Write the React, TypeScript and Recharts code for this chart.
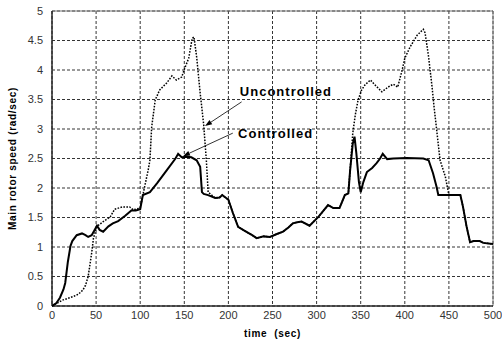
import React from "react";
import {
  CartesianGrid,
  Line,
  LineChart,
  ReferenceArea,
  ReferenceDot,
  ReferenceLine,
  XAxis,
  YAxis,
} from "recharts";

// time (sec) / rotor speed (rad/sec) samples for each run
const controlledTime = [
  0, 5, 9, 13, 15, 18, 21, 23, 28, 34, 38, 41, 45, 48, 51, 54, 58, 64, 69, 75,
  83, 90, 95, 100, 103, 111, 119, 130, 140, 143, 147, 153, 158, 164, 168, 170,
  172, 177, 185, 190, 193, 200, 205, 211, 219, 227, 232, 240, 247, 255, 262,
  268, 273, 278, 283, 292, 302, 313, 319, 326, 332, 336, 338, 341, 343, 345,
  348, 350, 353, 357, 363, 368, 372, 375, 380, 387, 402, 421, 427, 432, 436,
  438, 463, 466, 470, 474, 478, 485, 489, 500,
];
const controlledSpeed = [
  0, 0.05, 0.14, 0.28, 0.39, 0.75, 1.02, 1.1, 1.2, 1.23, 1.2, 1.17, 1.2, 1.28,
  1.36, 1.29, 1.26, 1.35, 1.4, 1.44, 1.53, 1.62, 1.62, 1.64, 1.88, 1.93, 2.08,
  2.3, 2.5, 2.58, 2.52, 2.53, 2.52, 2.47, 2.36, 1.93, 1.9, 1.88, 1.83, 1.84,
  1.88, 1.8, 1.58, 1.34, 1.27, 1.2, 1.15, 1.18, 1.17, 1.22, 1.26, 1.33, 1.4,
  1.42, 1.43, 1.36, 1.51, 1.71, 1.66, 1.66, 1.88, 1.91, 2.3, 2.75, 2.87, 2.6,
  2.1, 1.93, 2.1, 2.27, 2.34, 2.42, 2.5, 2.58, 2.49, 2.5, 2.51, 2.5, 2.47,
  2.25, 2.02, 1.88, 1.88, 1.68, 1.35, 1.08, 1.1, 1.1, 1.07, 1.05,
];

const uncontrolledTime = [
  0, 6, 12, 24, 30, 35, 38, 41, 43, 45, 47, 51, 58, 66, 71, 80, 88, 92, 100,
  105, 109, 111, 113, 117, 122, 130, 136, 141, 147, 151, 155, 159, 161, 164,
  168, 172, 175, 177, 185, 190, 193, 200, 205, 211, 219, 227, 232, 240, 247,
  255, 262, 268, 273, 278, 283, 292, 302, 313, 319, 326, 332, 336, 338, 341,
  344, 347, 351, 355, 361, 366, 374, 381, 387, 392, 397, 400, 406, 414, 421,
  423, 427, 431, 433, 436, 440, 446, 450, 463, 466, 470, 474, 478, 485, 489,
  500,
];
const uncontrolledSpeed = [
  0, 0.05, 0.1, 0.16, 0.2, 0.27, 0.35, 0.5, 0.7, 0.9, 1.15, 1.35, 1.43, 1.51,
  1.64, 1.68, 1.68, 1.63, 1.66, 2.02, 2.3, 2.47, 3.03, 3.49, 3.66, 3.78, 3.9,
  3.83, 3.88, 4.05, 4.2, 4.54, 4.56, 4.22, 3.61, 3.07, 2.47, 1.93, 1.83, 1.84,
  1.88, 1.8, 1.58, 1.34, 1.27, 1.2, 1.15, 1.18, 1.17, 1.22, 1.26, 1.33, 1.4,
  1.42, 1.43, 1.36, 1.51, 1.71, 1.66, 1.66, 1.88, 1.91, 2.3, 2.93, 3.25, 3.49,
  3.66, 3.75, 3.83, 3.75, 3.63, 3.71, 3.76, 3.71, 4.0, 4.2, 4.39, 4.59, 4.69,
  4.63, 4.22, 3.7, 3.4, 3.0, 2.47, 2.19, 1.88, 1.88, 1.68, 1.35, 1.08, 1.1,
  1.1, 1.07, 1.05,
];

const xTicks = [0, 50, 100, 150, 200, 250, 300, 350, 400, 450, 500];
const yTicks = [0, 0.5, 1, 1.5, 2, 2.5, 3, 3.5, 4, 4.5, 5];

// annotation text and arrows, in data units
const annotations = [
  { text: "Uncontrolled", x: 213, y: 3.56, from: [215, 3.46], to: [173.5, 3.05] },
  { text: "Controlled", x: 211, y: 2.85, from: [205, 2.93], to: [148.5, 2.54] },
];

const toPoints = (ts: number[], vs: number[]) =>
  ts.map((t, i) => ({ t, v: vs[i] }));

const controlled = toPoints(controlledTime, controlledSpeed);
const uncontrolled = toPoints(uncontrolledTime, uncontrolledSpeed);

const font = "'Liberation Sans', Arial, Helvetica, sans-serif";
const axisTitle = {
  fontSize: 10,
  fontWeight: "bold",
  fill: "#000",
  fontFamily: font,
  letterSpacing: 0.7,
};

const Arrow = (props: any) => {
  const { x1, y1, x2, y2 } = props;
  const a = Math.atan2(y2 - y1, x2 - x1);
  const len = 7;
  const w = 2.5;
  const bx = x2 - len * Math.cos(a);
  const by = y2 - len * Math.sin(a);
  const px = -Math.sin(a) * w;
  const py = Math.cos(a) * w;
  return (
    <g>
      <line x1={x1} y1={y1} x2={bx} y2={by} stroke="#000" strokeWidth={0.8} />
      <polygon
        points={`${x2},${y2} ${bx + px},${by + py} ${bx - px},${by - py}`}
        fill="#000"
      />
    </g>
  );
};

const App = () => {
  return (
    <div style={{ position: "absolute", left: 0, top: 0, background: "#fff" }}>
      <LineChart
        width={502}
        height={339}
        margin={{ top: 11, right: 9, bottom: 0, left: 0 }}
        style={{ fontFamily: font }}
      >
        <CartesianGrid
          stroke="#000"
          strokeWidth={0.8}
          strokeDasharray="3 2"
          verticalValues={xTicks}
          horizontalValues={yTicks}
        />
        <XAxis
          dataKey="t"
          type="number"
          domain={[0, 500]}
          ticks={xTicks}
          allowDataOverflow
          height={33}
          tickSize={0}
          tickMargin={5}
          axisLine={{ stroke: "#000" }}
          tick={{ fontSize: 11, fill: "#333", fontFamily: font }}
          label={{
            value: "time\u00a0 (sec)",
            position: "insideBottom",
            offset: 2,
            style: axisTitle,
          }}
        />
        <YAxis
          type="number"
          domain={[0, 5]}
          ticks={yTicks}
          width={52}
          tickSize={0}
          tickMargin={9}
          axisLine={{ stroke: "#000" }}
          tick={{ fontSize: 11, fill: "#333", fontFamily: font }}
          label={{
            value: "Main rotor speed (rad/sec)",
            angle: -90,
            position: "center",
            dx: -14,
            style: axisTitle,
          }}
        />
        <ReferenceArea
          x1={0}
          x2={500}
          y1={0}
          y2={5}
          fill="none"
          stroke="#777"
          strokeWidth={1}
        />
        <Line
          data={uncontrolled}
          dataKey="v"
          type="linear"
          stroke="#000"
          strokeWidth={1.5}
          strokeDasharray="1.6 1.4"
          dot={false}
          isAnimationActive={false}
        />
        <Line
          data={controlled}
          dataKey="v"
          type="linear"
          stroke="#000"
          strokeWidth={2}
          dot={false}
          isAnimationActive={false}
        />
        {annotations.map((a) => (
          <ReferenceLine
            key={a.text + "-arrow"}
            segment={[
              { x: a.from[0], y: a.from[1] },
              { x: a.to[0], y: a.to[1] },
            ]}
            shape={Arrow}
          />
        ))}
        {annotations.map((a) => (
          <ReferenceDot
            key={a.text}
            x={a.x}
            y={a.y}
            r={0}
            shape={(p: any) => (
              <text
                x={p.cx}
                y={p.cy}
                fontSize={13}
                fontWeight="bold"
                letterSpacing={1}
                fill="#000"
                fontFamily={font}
              >
                {a.text}
              </text>
            )}
          />
        ))}
      </LineChart>
    </div>
  );
};

export default App;
